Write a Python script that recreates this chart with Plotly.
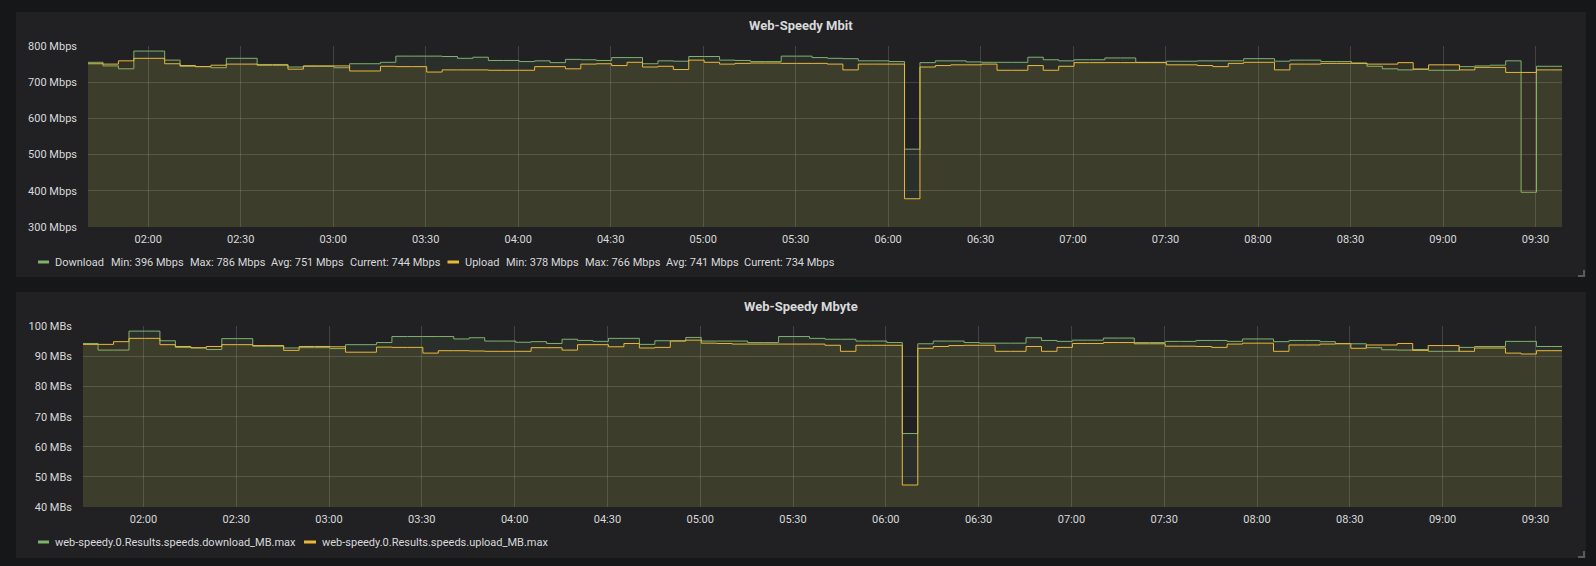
import pandas as pd
import plotly.graph_objects as go

W, H = 1596, 566

# ---------------- data ----------------
start_time = "2020-01-01 01:40:20"
end_time = "2020-01-01 09:38:36"
range_start = "2020-01-01 01:40:28"

dl_mbit = [755, 745, 737, 786, 786, 761, 744, 743, 740, 766, 766, 749, 749, 742, 744, 744,
           740, 751, 751, 755, 772, 772, 772, 771, 766, 769, 760, 760, 757, 759, 754, 763,
           762, 760, 768, 768, 751, 759, 758, 771, 771, 761, 760, 757, 757, 772, 772, 768,
           766, 765, 759, 759, 757, 515, 754, 759, 759, 756, 755, 755, 755, 769, 762, 759,
           762, 762, 767, 767, 755, 755, 758, 758, 759, 759, 759, 765, 765, 758, 761, 761,
           757, 757, 753, 744, 737, 734, 736, 733, 733, 743, 745, 747, 759, 396, 744, 744]
ul_mbit = [751, 750, 759, 766, 766, 751, 746, 743, 747, 750, 750, 747, 747, 736, 745, 745,
           745, 731, 731, 744, 743, 743, 728, 734, 734, 734, 733, 733, 733, 743, 743, 737,
           750, 751, 746, 755, 742, 744, 735, 761, 755, 750, 752, 753, 753, 752, 752, 752,
           750, 734, 750, 750, 750, 378, 742, 746, 748, 748, 750, 733, 733, 746, 733, 744,
           754, 754, 754, 754, 754, 754, 748, 748, 746, 743, 752, 755, 755, 734, 750, 750,
           752, 752, 752, 750, 750, 754, 736, 748, 748, 734, 741, 741, 727, 727, 734, 734]
dl_mbyte = [94.3, 92.1, 92.1, 98.4, 98.4, 95.2, 93.0, 92.8, 92.3, 95.9, 95.9, 93.4, 93.4, 92.8, 92.9, 92.9,
            92.6, 93.9, 93.9, 94.6, 96.6, 96.6, 96.6, 96.6, 95.8, 96.2, 95.1, 95.1, 94.7, 94.9, 94.3, 95.7,
            95.3, 95.0, 96.0, 96.0, 94.0, 95.2, 95.2, 96.3, 95.1, 95.1, 95.1, 94.6, 94.6, 96.6, 96.6, 96.0,
            95.7, 95.7, 95.1, 95.1, 94.6, 64.4, 94.2, 95.1, 95.1, 94.6, 94.4, 94.4, 94.4, 96.2, 95.3, 95.0,
            95.4, 95.4, 96.1, 96.1, 94.6, 94.6, 95.0, 95.0, 95.3, 95.3, 95.0, 95.8, 95.8, 94.9, 95.3, 95.3,
            94.9, 94.3, 94.2, 92.9, 92.2, 92.1, 92.3, 91.7, 91.7, 93.0, 93.3, 93.3, 95.0, 95.0, 93.3, 93.3]
ul_mbyte = [94.0, 94.0, 94.9, 96.0, 96.0, 93.9, 93.3, 92.9, 93.3, 93.9, 93.9, 93.6, 93.6, 92.0, 93.3, 93.3,
            93.2, 91.4, 91.4, 93.1, 93.0, 93.0, 91.1, 91.9, 91.9, 91.8, 91.7, 91.7, 91.7, 92.9, 92.9, 92.1,
            93.9, 93.9, 93.2, 94.3, 92.8, 93.0, 95.1, 95.4, 94.4, 94.3, 94.1, 94.1, 94.1, 94.1, 94.1, 94.1,
            93.7, 91.7, 93.7, 93.7, 93.7, 47.3, 92.7, 93.3, 93.6, 93.7, 93.7, 91.7, 91.7, 93.3, 91.7, 93.0,
            94.3, 94.3, 94.6, 94.6, 94.2, 94.2, 93.4, 93.4, 93.3, 93.0, 94.1, 94.4, 94.4, 91.7, 93.8, 93.8,
            94.1, 94.2, 92.7, 93.8, 93.8, 94.3, 92.0, 93.6, 93.6, 91.7, 92.8, 92.8, 91.1, 90.8, 91.9, 91.9]

top_yticks = [300, 400, 500, 600, 700, 800]
bot_yticks = [40, 50, 60, 70, 80, 90, 100]

top_title = "Web-Speedy Mbit"
bot_title = "Web-Speedy Mbyte"
top_legend = [
    ("Download", ["Min: 396 Mbps", "Max: 786 Mbps", "Avg: 751 Mbps", "Current: 744 Mbps"]),
    ("Upload", ["Min: 378 Mbps", "Max: 766 Mbps", "Avg: 741 Mbps", "Current: 734 Mbps"]),
]
bot_legend = ["web-speedy.0.Results.speeds.download_MB.max",
              "web-speedy.0.Results.speeds.upload_MB.max"]

# ---------------- styling ----------------
PAGE_BG = "#161719"
PANEL_BG = "#212124"
GREEN = "#7EB26D"
YELLOW = "#EAB839"
TEXT = "#d8d9da"
GRID = "rgba(200,200,200,0.2)"
FONT = "Roboto"


def px(x):
    return x / W


def py(y):
    return 1 - y / H


times = list(pd.date_range(start_time, periods=len(dl_mbit), freq="5min"))
x = times + [pd.Timestamp(end_time)]


def ext(v):
    return list(v) + [v[-1]]


fig = go.Figure()


def add_series(vals, color, fillc, xa, ya):
    fig.add_trace(go.Scatter(
        x=x, y=ext(vals), mode="lines",
        line=dict(color=color, width=1, shape="hv"),
        fill="tozeroy", fillcolor=fillc,
        xaxis=xa, yaxis=ya, showlegend=False, hoverinfo="skip"))


add_series(dl_mbit, GREEN, "rgba(126,178,109,0.1)", "x", "y")
add_series(ul_mbit, YELLOW, "rgba(234,184,57,0.1)", "x", "y")
add_series(dl_mbyte, GREEN, "rgba(126,178,109,0.1)", "x2", "y2")
add_series(ul_mbyte, YELLOW, "rgba(234,184,57,0.1)", "x2", "y2")

xcommon = dict(
    type="date", range=[range_start, end_time], automargin=False,
    tickformat="%H:%M", dtick=30 * 60 * 1000, tick0="2020-01-01 02:00",
    showgrid=True, gridcolor=GRID, gridwidth=1, zeroline=False, showline=False,
    ticks="", tickfont=dict(family=FONT, size=11, color=TEXT), ticklabelstandoff=4,
)
ycommon = dict(
    showgrid=True, gridcolor=GRID, gridwidth=1, zeroline=False, showline=False,
    automargin=False,
    ticks="", tickfont=dict(family=FONT, size=11, color=TEXT), ticklabelstandoff=10,
)

shapes = [
    dict(type="rect", xref="paper", yref="paper", x0=px(16), x1=px(1586), y0=py(277), y1=py(12),
         fillcolor=PANEL_BG, line=dict(width=0), layer="below"),
    dict(type="rect", xref="paper", yref="paper", x0=px(16), x1=px(1586), y0=py(558), y1=py(292),
         fillcolor=PANEL_BG, line=dict(width=0), layer="below"),
]
# resize corner marks
for yb in (276, 557):
    shapes.append(dict(type="path", xref="paper", yref="paper",
                       path=f"M {px(1578)} {py(yb)} L {px(1584)} {py(yb)} L {px(1584)} {py(yb - 6)}",
                       line=dict(color="#5a5a5e", width=2), layer="above"))

annotations = [
    dict(text=f"<b>{top_title}</b>", x=px(801), y=py(26), xref="paper", yref="paper",
         showarrow=False, xanchor="center", yanchor="middle",
         font=dict(family=FONT, size=13, color=TEXT)),
    dict(text=f"<b>{bot_title}</b>", x=px(801), y=py(306), xref="paper", yref="paper",
         showarrow=False, xanchor="center", yanchor="middle",
         font=dict(family=FONT, size=13, color=TEXT)),
]


def legend_text(txt, xl, yc):
    annotations.append(dict(text=txt, x=px(xl), y=py(yc), xref="paper", yref="paper",
                            showarrow=False, xanchor="left", yanchor="middle",
                            font=dict(family=FONT, size=11, color=TEXT)))


def swatch(x0, x1, yc, color):
    shapes.append(dict(type="rect", xref="paper", yref="paper",
                       x0=px(x0), x1=px(x1), y0=py(yc + 1.5), y1=py(yc - 1.5),
                       fillcolor=color, line=dict(width=0), layer="above"))


# top legend
ly = 262
swatch(38, 49, ly, GREEN)
legend_text(top_legend[0][0], 53, ly)
for txt, xl in zip(top_legend[0][1], [109, 187.5, 268.5, 347.5]):
    legend_text(txt, xl, ly)
swatch(447.5, 459, ly, YELLOW)
legend_text(top_legend[1][0], 463, ly)
for txt, xl in zip(top_legend[1][1], [503.5, 582.5, 663.5, 742]):
    legend_text(txt, xl, ly)

# bottom legend
ly2 = 542
swatch(38, 49, ly2, GREEN)
legend_text(bot_legend[0], 53, ly2)
swatch(304, 316, ly2, YELLOW)
legend_text(bot_legend[1], 320, ly2)

fig.update_layout(
    width=W, height=H, autosize=False,
    margin=dict(l=0, r=0, t=0, b=0, pad=0, autoexpand=False),
    paper_bgcolor=PAGE_BG, plot_bgcolor="rgba(0,0,0,0)",
    font=dict(family=FONT, color=TEXT),
    showlegend=False,
    xaxis=dict(domain=[px(88), px(1562)], anchor="y", **xcommon),
    yaxis=dict(domain=[py(227), py(46)], anchor="x", range=[300, 800],
               tickvals=top_yticks, ticktext=[f"{v} Mbps" for v in top_yticks], **ycommon),
    xaxis2=dict(domain=[px(83), px(1562)], anchor="y2", **xcommon),
    yaxis2=dict(domain=[py(507), py(326.3)], anchor="x2", range=[40, 100],
                tickvals=bot_yticks, ticktext=[f"{v} MBs" for v in bot_yticks], **ycommon),
    shapes=shapes,
    annotations=annotations,
)

fig.write_html(
    "out.html",
    post_script="document.body.style.margin='0';document.body.style.padding='0';"
                "document.body.style.overflow='hidden';"
                "document.body.style.background='" + PAGE_BG + "';",
)
